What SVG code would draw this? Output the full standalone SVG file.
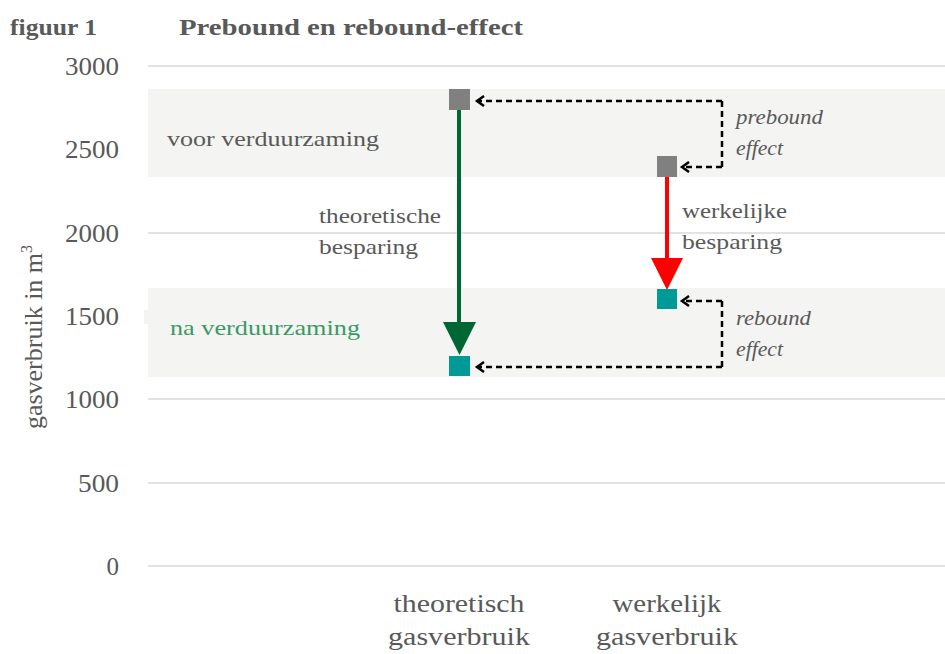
<svg xmlns="http://www.w3.org/2000/svg" width="945" height="654" viewBox="0 0 945 654">
<style>
text{font-family:"Liberation Serif","DejaVu Serif",serif;fill:#595959}
.tick{font-size:25px;text-anchor:end}
.lbl{font-size:22px}
.it{font-size:22px;font-style:italic}
.cat{font-size:25px;text-anchor:middle}
.b{font-size:23px;font-weight:bold}
.grid{stroke:#d9d9d9;stroke-width:1.5}
.band{fill:#f4f4f2}
.dash{fill:none;stroke:#000;stroke-width:2.5;stroke-dasharray:6 4}
</style>
<defs>
<marker id="chev" markerWidth="12" markerHeight="12" refX="9" refY="6" orient="auto" markerUnits="userSpaceOnUse">
<path d="M2,1 L9,6 L2,11" fill="none" stroke="#000" stroke-width="2.5"/>
</marker>
</defs>
<rect width="945" height="654" fill="#fff"/>
<g id="bands">
<rect class="band" x="148" y="89" width="797" height="88"/>
<rect class="band" x="148" y="288" width="797" height="89"/>
<rect class="band" x="144" y="310" width="4" height="14"/>
</g>
<g id="grid">
<line class="grid" x1="148" y1="66" x2="945" y2="66"/>
<line class="grid" x1="148" y1="233" x2="945" y2="233"/>
<line class="grid" x1="148" y1="399" x2="945" y2="399"/>
<line class="grid" x1="148" y1="483" x2="945" y2="483"/>
<line class="grid" x1="148" y1="566" x2="945" y2="566"/>
</g>
<g id="title">
<text class="b" x="10" y="35" textLength="87" lengthAdjust="spacingAndGlyphs">figuur 1</text>
<text class="b" x="179" y="35" textLength="344" lengthAdjust="spacingAndGlyphs">Prebound en rebound-effect</text>
</g>
<g id="axis">
<text class="tick" x="119" y="75" textLength="54" lengthAdjust="spacingAndGlyphs">3000</text>
<text class="tick" x="119" y="158" textLength="54" lengthAdjust="spacingAndGlyphs">2500</text>
<text class="tick" x="119" y="242" textLength="54" lengthAdjust="spacingAndGlyphs">2000</text>
<text class="tick" x="119" y="325" textLength="54" lengthAdjust="spacingAndGlyphs">1500</text>
<text class="tick" x="119" y="408" textLength="54" lengthAdjust="spacingAndGlyphs">1000</text>
<text class="tick" x="119" y="492" textLength="41" lengthAdjust="spacingAndGlyphs">500</text>
<text class="tick" x="119" y="575">0</text>
<text transform="translate(42,337) rotate(-90)" style="font-size:26px;text-anchor:middle">gasverbruik in m<tspan dy="-10" style="font-size:16px">3</tspan></text>
</g>
<g id="zone-labels">
<text class="lbl" x="167" y="146" textLength="212" lengthAdjust="spacingAndGlyphs">voor verduurzaming</text>
<text class="lbl" x="170" y="335" textLength="190" lengthAdjust="spacingAndGlyphs" style="fill:#3a9a66">na verduurzaming</text>
</g>
<g id="connectors">
<line x1="459" y1="110" x2="459" y2="323" stroke="#006633" stroke-width="4"/>
<polygon points="443,322 476,322 459.5,355" fill="#006633"/>
<line x1="667" y1="177" x2="667" y2="259" stroke="#ff0000" stroke-width="4"/>
<polygon points="651,258 683,258 667,290" fill="#ff0000"/>
<path class="dash" d="M722,101 H477" marker-end="url(#chev)"/>
<path class="dash" d="M722,167 H682" marker-end="url(#chev)"/>
<path class="dash" d="M722,101 V167"/>
<path class="dash" d="M722,301 H682" marker-end="url(#chev)"/>
<path class="dash" d="M722,367 H477" marker-end="url(#chev)"/>
<path class="dash" d="M722,301 V367"/>
</g>
<g id="node-theo-before"><rect x="449" y="89" width="21" height="21" fill="#808080"/></g>
<g id="node-real-before"><rect x="657" y="156" width="20" height="21" fill="#808080"/></g>
<g id="node-real-after"><rect x="657" y="289" width="20" height="20" fill="#009a96"/></g>
<g id="node-theo-after"><rect x="449" y="356" width="21" height="20" fill="#009a96"/></g>
<g id="labels">
<text class="lbl" x="319" y="223" textLength="122" lengthAdjust="spacingAndGlyphs">theoretische</text>
<text class="lbl" x="319" y="254" textLength="99" lengthAdjust="spacingAndGlyphs">besparing</text>
<text class="lbl" x="682" y="218" textLength="105" lengthAdjust="spacingAndGlyphs">werkelijke</text>
<text class="lbl" x="682" y="249" textLength="100" lengthAdjust="spacingAndGlyphs">besparing</text>
<text class="it" x="736" y="124" textLength="87" lengthAdjust="spacingAndGlyphs">prebound</text>
<text class="it" x="736" y="155" textLength="47" lengthAdjust="spacingAndGlyphs">effect</text>
<text class="it" x="736" y="325" textLength="75" lengthAdjust="spacingAndGlyphs">rebound</text>
<text class="it" x="736" y="356" textLength="47" lengthAdjust="spacingAndGlyphs">effect</text>
<text class="cat" x="459" y="612" textLength="131" lengthAdjust="spacingAndGlyphs">theoretisch</text>
<text class="cat" x="459" y="645" textLength="142" lengthAdjust="spacingAndGlyphs">gasverbruik</text>
<text class="cat" x="667" y="612" textLength="109" lengthAdjust="spacingAndGlyphs">werkelijk</text>
<text class="cat" x="667" y="645" textLength="142" lengthAdjust="spacingAndGlyphs">gasverbruik</text>
</g>
</svg>
